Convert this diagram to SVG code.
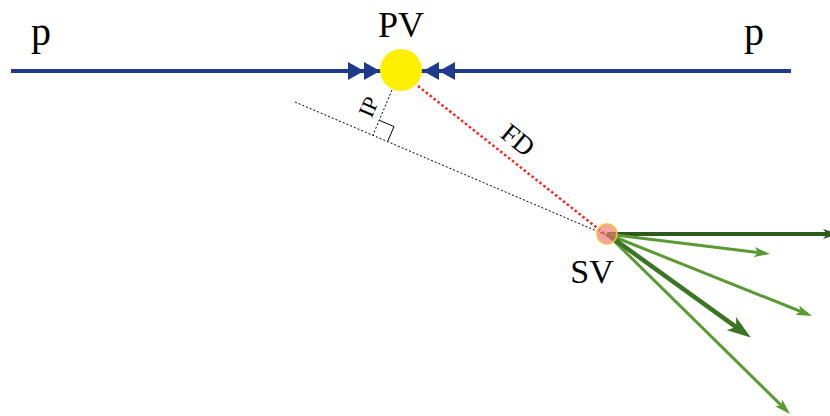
<svg xmlns="http://www.w3.org/2000/svg" width="830" height="416" viewBox="0 0 830 416">
<style>
  .lbl { font-family: "Liberation Serif", "DejaVu Serif", serif; fill: #000; }
  .beam { stroke: #1f3a8a; stroke-width: 4; fill: none; }
  .head { fill: #1f3a8a; }
  .trk { stroke: #5a9a32; stroke-width: 3; fill: none; }
  .trkd { stroke: #3a7524; stroke-width: 4.5; fill: none; }
  .trkh { stroke: #2e5a1c; stroke-width: 4; fill: none; }
</style>
<defs>
  <marker id="aL" markerUnits="userSpaceOnUse" viewBox="0 0 16 10" markerWidth="16" markerHeight="10" refX="8" refY="5" orient="auto">
    <path d="M0,0 L16,5 L0,10 L4,5 z" fill="#5a9a32"/>
  </marker>
  <marker id="aD" markerUnits="userSpaceOnUse" viewBox="0 0 24 16" markerWidth="24" markerHeight="16" refX="12" refY="8" orient="auto">
    <path d="M0,0 L24,8 L0,16 L6,8 z" fill="#3a7524"/>
  </marker>
  <marker id="aH" markerUnits="userSpaceOnUse" viewBox="0 0 16 10" markerWidth="16" markerHeight="10" refX="4" refY="5" orient="auto">
    <path d="M0,0 L16,5 L0,10 L4,5 z" fill="#2e5a1c"/>
  </marker>
</defs>

<g id="connectors">
  <line class="beam" x1="11" y1="71" x2="791" y2="71"/>
  <line x1="295" y1="102" x2="606" y2="235" stroke="#000" stroke-width="1" stroke-dasharray="2,2"/>
  <line x1="392" y1="90" x2="373" y2="135" stroke="#000" stroke-width="1" stroke-dasharray="2,2"/>
  <polyline points="379.3,120.3 394,126.6 387.7,141.3" fill="none" stroke="#000" stroke-width="1"/>
  <line x1="418" y1="86" x2="606" y2="235" stroke="#ff2020" stroke-width="2.5" stroke-dasharray="2.5,2.5"/>
  <line class="trkh" x1="607" y1="234" x2="827" y2="234" marker-end="url(#aH)"/>
  <line class="trk" x1="607" y1="234" x2="762.1" y2="253" marker-end="url(#aL)"/>
  <line class="trk" x1="607" y1="234" x2="804.6" y2="313" marker-end="url(#aL)"/>
  <line class="trk" x1="607" y1="234" x2="784.3" y2="408.4" marker-end="url(#aL)"/>
  <line class="trkd" x1="607" y1="234" x2="741.1" y2="330.6" marker-end="url(#aD)"/>
  <polygon class="head" points="348,62 364,71 348,80"/>
  <polygon class="head" points="364,62 380,71 364,80"/>
  <polygon class="head" points="455,62 439,71 455,80"/>
  <polygon class="head" points="439,62 423,71 439,80"/>
</g>

<g id="PV">
  <circle cx="401" cy="70" r="21" fill="#fff000"/>
  <text class="lbl" x="401" y="37" font-size="36" text-anchor="middle">PV</text>
</g>

<g id="SV">
  <circle cx="607" cy="234" r="10" fill="#f07070" fill-opacity="0.65" stroke="#f2c23a" stroke-width="1.5"/>
  <text class="lbl" x="592" y="283" font-size="34" text-anchor="middle">SV</text>
</g>

<g id="p-left">
  <text class="lbl" x="41" y="45" font-size="40" text-anchor="middle">p</text>
</g>
<g id="p-right">
  <text class="lbl" x="754" y="45" font-size="40" text-anchor="middle">p</text>
</g>

<g id="IP-label">
  <text class="lbl" transform="translate(369,107) rotate(-66.7)" x="0" y="7" font-size="22" text-anchor="middle">IP</text>
</g>
<g id="FD-label">
  <text class="lbl" transform="translate(518,140) rotate(38.8)" x="0" y="9" font-size="27" text-anchor="middle">FD</text>
</g>
</svg>
